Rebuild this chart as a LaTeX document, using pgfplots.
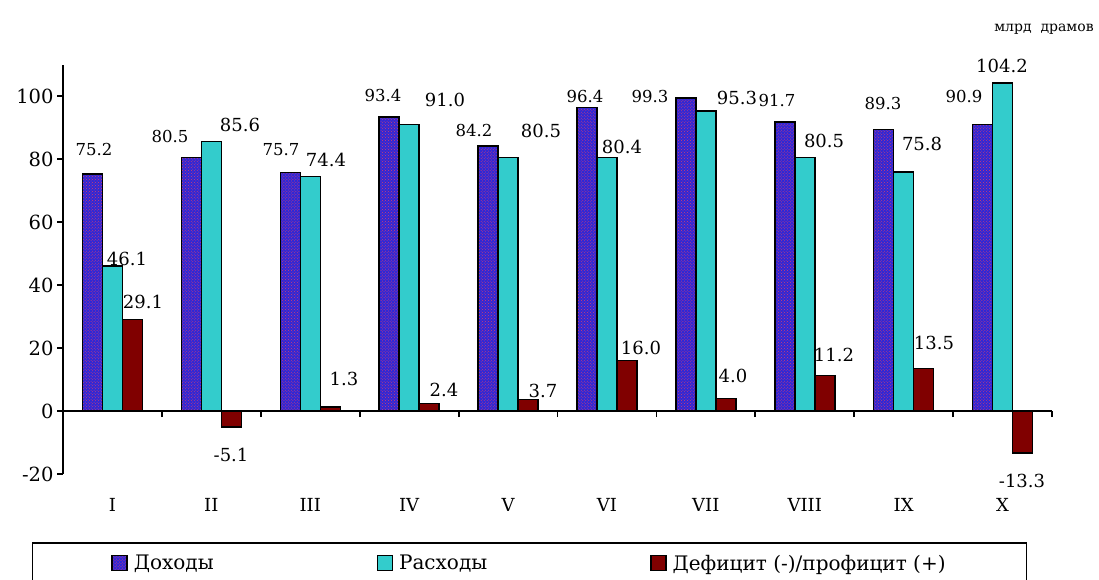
\documentclass[border=0pt]{standalone}
\usepackage{pgfplots}
\pgfplotsset{compat=1.18}
\usepackage{fontspec}
\setmainfont{DejaVu Serif}
\usetikzlibrary{patterns}
\definecolor{dohod}{RGB}{45,40,215}
\definecolor{dohodp}{RGB}{215,60,110}
\definecolor{rash}{RGB}{51,204,204}
\definecolor{defc}{RGB}{128,0,0}
\pgfplotsset{sq/.style={legend image code/.code={\draw[##1,line width=1.4bp] (0bp,-7.5bp) rectangle (15bp,7.5bp);}}}
\newcommand{\fa}{\fontsize{16.5bp}{19bp}\selectfont}
\newcommand{\fb}{\fontsize{18bp}{20bp}\selectfont}
\begin{document}
\begin{tikzpicture}
\begin{axis}[
 at={(63bp,-474bp)}, anchor=south west,
 scale only axis, width=989bp, height=409.5bp,
 xmin=-0.5, xmax=9.5, ymin=-20, ymax=110,
 axis y line=left, axis x line=middle,
 axis line style={-, line width=1.8bp, black},
 ytick={-20,0,20,40,60,80,100},
 xtick={0.5,1.5,...,9.5}, xticklabels={},
 tick align=outside, major tick length=6bp,
 tick style={line width=1.8bp, black},
 yticklabel style={font=\fontsize{19.5bp}{22bp}\selectfont, /pgf/number format/assume math mode=true},
 ybar=0pt, bar width=20bp,
 clip=false,
 legend columns=3,
 legend style={at={(0.4717,-0.166)}, anchor=north, draw=black, line width=1.8bp,
   inner xsep=79bp, inner ysep=10bp,
   font=\fontsize{20bp}{23bp}\selectfont,
   nodes={inner sep=2bp},
   /tikz/every odd column/.append style={column sep=4bp},
   /tikz/every even column/.append style={column sep=161bp}},
]
\addplot[sq, draw=black, line width=1.5bp, fill=dohod, postaction={pattern=crosshatch dots, pattern color=dohodp}]
 coordinates {(0,75.2) (1,80.5) (2,75.7) (3,93.4) (4,84.2) (5,96.4) (6,99.3) (7,91.7) (8,89.3) (9,90.9)};
\addplot[sq, draw=black, line width=1.5bp, fill=rash]
 coordinates {(0,46.1) (1,85.6) (2,74.4) (3,91.0) (4,80.5) (5,80.4) (6,95.3) (7,80.5) (8,75.8) (9,104.2)};
\addplot[sq, draw=black, line width=1.5bp, fill=defc]
 coordinates {(0,29.1) (1,-5.1) (2,1.3) (3,2.4) (4,3.7) (5,16.0) (6,4.0) (7,11.2) (8,13.5) (9,-13.3)};
\legend{Доходы, Расходы, Дефицит (-)/профицит (+)}
% data labels
\node[font=\fa] at (axis cs:-0.187,82.9) {75.2};
\node[font=\fb] at (axis cs:0.147,48.3) {46.1};
\node[font=\fb] at (axis cs:0.309,34.6) {29.1};
\node[font=\fa] at (axis cs:0.582,87.0) {80.5};
\node[font=\fb] at (axis cs:1.290,90.8) {85.6};
\node[font=\fb] at (axis cs:1.199,-14.0) {-5.1};
\node[font=\fa] at (axis cs:1.704,82.9) {75.7};
\node[font=\fb] at (axis cs:2.159,79.7) {74.4};
\node[font=\fb] at (axis cs:2.341,10.2) {1.3};
\node[font=\fa] at (axis cs:2.736,100.3) {93.4};
\node[font=\fb] at (axis cs:3.362,98.7) {91.0};
\node[font=\fb] at (axis cs:3.352,6.7) {2.4};
\node[font=\fa] at (axis cs:3.656,88.9) {84.2};
\node[font=\fb] at (axis cs:4.333,88.9) {80.5};
\node[font=\fb] at (axis cs:4.353,6.3) {3.7};
\node[font=\fa] at (axis cs:4.778,99.7) {96.4};
\node[font=\fb] at (axis cs:5.152,83.8) {80.4};
\node[font=\fb] at (axis cs:5.344,20.0) {16.0};
\node[font=\fa] at (axis cs:5.435,99.7) {99.3};
\node[font=\fb] at (axis cs:6.315,99.4) {95.3};
\node[font=\fb] at (axis cs:6.274,11.1) {4.0};
\node[font=\fa] at (axis cs:6.719,98.7) {91.7};
\node[font=\fb] at (axis cs:7.195,85.7) {80.5};
\node[font=\fb] at (axis cs:7.296,17.8) {11.2};
\node[font=\fa] at (axis cs:7.791,97.5) {89.3};
\node[font=\fb] at (axis cs:8.186,84.8) {75.8};
\node[font=\fb] at (axis cs:8.307,21.6) {13.5};
\node[font=\fa] at (axis cs:8.610,99.7) {90.9};
\node[font=\fb] at (axis cs:8.994,109.5) {104.2};
\node[font=\fb] at (axis cs:9.197,-22.2) {-13.3};
% category labels
\node[font=\fb] at (axis cs:0,-29.8) {I};
\node[font=\fb] at (axis cs:1,-29.8) {II};
\node[font=\fb] at (axis cs:2,-29.8) {III};
\node[font=\fb] at (axis cs:3,-29.8) {IV};
\node[font=\fb] at (axis cs:4,-29.8) {V};
\node[font=\fb] at (axis cs:5,-29.8) {VI};
\node[font=\fb] at (axis cs:6,-29.8) {VII};
\node[font=\fb] at (axis cs:7,-29.8) {VIII};
\node[font=\fb] at (axis cs:8,-29.8) {IX};
\node[font=\fb] at (axis cs:9,-29.8) {X};
\end{axis}
\node[font=\fontsize{14bp}{16bp}\selectfont] at (1044bp,-29bp) {млрд\ \ драмов};
\pgfresetboundingbox
\path[use as bounding box] (0,0) rectangle (1099bp,-580bp);
\end{tikzpicture}
\end{document}
